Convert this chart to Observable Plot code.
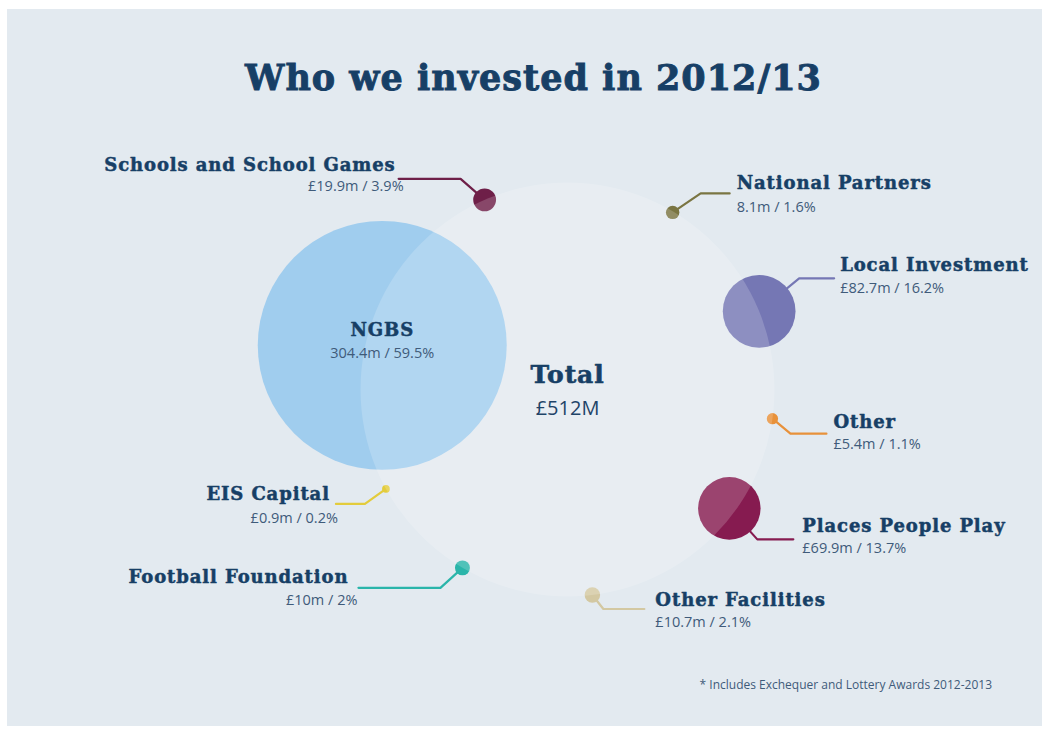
<!DOCTYPE html>
<html>
<head>
<meta charset="utf-8">
<script src="https://cdn.jsdelivr.net/npm/d3@7"></script>
<script src="https://cdn.jsdelivr.net/npm/@observablehq/plot@0.6"></script>
<style>
  html, body { margin: 0; padding: 0; background: #ffffff; }
  #frame { position: absolute; left: 7px; top: 9px; width: 1035px; height: 717px; background: #e3eaf0; overflow: hidden; }
  #title { position: absolute; left: 18px; right: 0; top: 48px; margin: 0; text-align: center;
           font: bold 35px/42px "DejaVu Serif", serif; color: #173f66; letter-spacing: 1px;
           -webkit-text-stroke: 0.9px #173f66; }
  #chart { position: absolute; left: 0; top: 111px; }
  #chart g[font-family="DejaVu Serif"] { letter-spacing: 0.9px; }
  #note { position: absolute; right: 50px; top: 668px; font: 12px/16px "Open Sans", sans-serif; color: #3f5b7a; }
</style>
</head>
<body>
<div id="frame">
  <h1 id="title">Who we invested in 2012/13</h1>
  <div id="chart"></div>
  <div id="note">* Includes Exchequer and Lottery Awards 2012-2013</div>
</div>
<script>
// ---------- data ----------
const categories = ["NGBS", "Schools and School Games", "National Partners", "Local Investment", "Other",
                    "Places People Play", "Other Facilities", "Football Foundation", "EIS Capital"];
const amounts = [304.4, 19.9, 8.1, 82.7, 5.4, 69.9, 10.7, 10, 0.9];
const amountLabels = ["304.4m", "£19.9m", "8.1m", "£82.7m", "£5.4m", "£69.9m", "£10.7m", "£10m", "£0.9m"];
const shareLabels = ["59.5%", "3.9%", "1.6%", "16.2%", "1.1%", "13.7%", "2.1%", "2%", "0.2%"];
const totalAmount = 512;
const totalName = "Total";
const totalLabel = "£512M";
const colors = ["#a0cdee", "#6e1f48", "#7a7542", "#7577b4", "#e8913a", "#861b50", "#d3c8a2", "#2ab5aa", "#e3cc3c"];

// ---------- layout (positions around the total circle) ----------
const W = 1035, H = 540;
const CX = 560, CY = 269, R = 207;           // centre / radius of the "total" circle, px
const angles = [-76.6, -23.6, 30.7, 67.8, 98.1, 126.3, 173.1, 210.5, 241.3];  // degrees clockwise from 12 o'clock
const dists  = [0.92, 1, 0.995, 1, 1, 0.97, 1, 1, 1];
const elbows = [null, [-24, -21], [28, -19], [40, -33], [18, 15], [28, 31], [11, 14], [-22, 20], [-21, 15]];
const runs   = [null, -62, 29, 35, 36, 36, 41, -82, -29];
const anchors = ["middle", "end", "start", "start", "start", "start", "start", "end", "end"];
const nameOffsets  = [[0, -15], [-3, -14], [7, -10], [6, -13], [7, -11], [9, -13], [11, -9], [-10, -11], [-6, -10]];
const valueOffsets = [[0, 8], [5, 8], [7, 14], [6, 10], [7, 11], [9, 9], [11, 13], [-1, 13], [2, 14]];

// ---------- derived tables ----------
const u = px => px / R;
const rows = categories.map((name, i) => {
  const a = angles[i] * Math.PI / 180;
  const x = dists[i] * Math.sin(a), y = -dists[i] * Math.cos(a);
  let ex = x, ey = y;
  if (elbows[i]) { ex = x + u(elbows[i][0] + runs[i]); ey = y + u(elbows[i][1]); }
  return {
    name, amount: amounts[i], value: `${amountLabels[i]} / ${shareLabels[i]}`, anchor: anchors[i],
    x, y,
    nx: ex + u(nameOffsets[i][0]), ny: ey + u(nameOffsets[i][1]),
    vx: ex + u(valueOffsets[i][0]), vy: ey + u(valueOffsets[i][1])
  };
});
const leaders = [];
rows.forEach((d, i) => {
  if (!elbows[i]) return;
  const e = elbows[i];
  leaders.push({name: d.name, x: d.x, y: d.y});
  leaders.push({name: d.name, x: d.x + u(e[0]), y: d.y + u(e[1])});
  leaders.push({name: d.name, x: d.x + u(e[0] + runs[i]), y: d.y + u(e[1])});
});
const totalRow = [{name: totalName, amount: totalAmount, x: 0, y: 0}];

const nameFont = {fontFamily: "DejaVu Serif", fontWeight: "bold", fontSize: 18, fill: "#173f66", stroke: "#173f66", strokeWidth: 0.5};
const valueFont = {fontFamily: "Open Sans", fontSize: 14.5, fill: "#3f5b7a"};

const textMarks = [];
for (const anchor of ["start", "middle", "end"]) {
  const sub = rows.filter(d => d.anchor === anchor);
  textMarks.push(Plot.text(sub, {x: "nx", y: "ny", text: "name", textAnchor: anchor, ...nameFont}));
  textMarks.push(Plot.text(sub, {x: "vx", y: "vy", text: "value", textAnchor: anchor, ...valueFont}));
}

const chart = Plot.plot({
  width: W, height: H, margin: 0,
  style: {background: "transparent", overflow: "visible"},
  x: {domain: [-CX / R, (W - CX) / R], range: [0, W], axis: null},
  y: {domain: [-CY / R, (H - CY) / R], range: [0, H], axis: null},
  r: {type: "linear", domain: [0, totalAmount], range: [3.5, R]},
  color: {domain: categories, range: colors},
  marks: [
    Plot.line(leaders, {x: "x", y: "y", z: "name", stroke: "name", strokeWidth: 2.2, strokeLinejoin: "round", strokeLinecap: "round"}),
    Plot.dot(rows, {x: "x", y: "y", r: "amount", fill: "name", stroke: null}),
    Plot.dot(totalRow, {x: "x", y: "y", r: "amount", fill: "white", fillOpacity: 0.18, stroke: null}),
    ...textMarks,
    Plot.text(totalRow, {x: "x", y: "y", text: "name", dy: -15, fontFamily: "DejaVu Serif", fontWeight: "bold", fontSize: 25, fill: "#173f66", stroke: "#173f66", strokeWidth: 0.6}),
    Plot.text(totalRow, {x: "x", y: "y", text: () => totalLabel, dy: 19, fontFamily: "Open Sans", fontSize: 20, fill: "#1f4468"})
  ]
});
document.getElementById("chart").appendChild(chart);
</script>
</body>
</html>
